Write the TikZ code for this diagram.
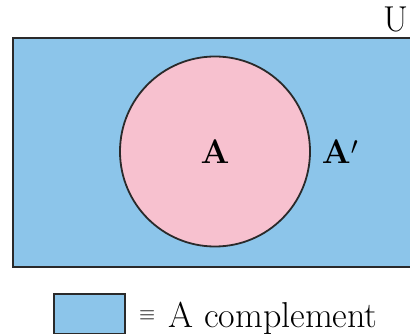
\documentclass[tikz,border=0pt]{standalone}
\usepackage{fontspec}
\definecolor{complblue}{RGB}{140,197,234}
\definecolor{setpink}{RGB}{247,193,207}
\definecolor{edgegray}{RGB}{42,42,42}
\begin{document}
\begin{tikzpicture}[x=1pt, y=1pt, font=\fontsize{36}{42}\selectfont]
\useasboundingbox (0,0) rectangle (410,335);
\node[draw=edgegray, line width=2pt, fill=complblue, inner sep=0pt, minimum width=402pt, minimum height=229pt, anchor=north west] (universe) at (12,298) {};
\node[draw=edgegray, line width=1.8pt, fill=setpink, circle, inner sep=0pt, minimum size=190pt] (setA) at (215,183.5) {};
\node[font=\fontsize{34}{40}\selectfont\bfseries] (labelA) at (setA.center) {A};
\node[font=\fontsize{34}{40}\selectfont\bfseries] (labelAc) at (340,183) {A$'$};
\node[anchor=base east, inner sep=0pt] (labelU) at (409,303) {U};
\node[draw=edgegray, line width=1.5pt, fill=complblue, inner sep=0pt, minimum width=71pt, minimum height=39pt, anchor=south west] (legendbox) at (53,1) {};
\node[anchor=base west, inner sep=0pt] (legendtext) at (139,8) {\raisebox{7pt}{\fontsize{20}{22}\selectfont$\equiv$}\hspace{13pt}A complement};
\end{tikzpicture}
\end{document}
